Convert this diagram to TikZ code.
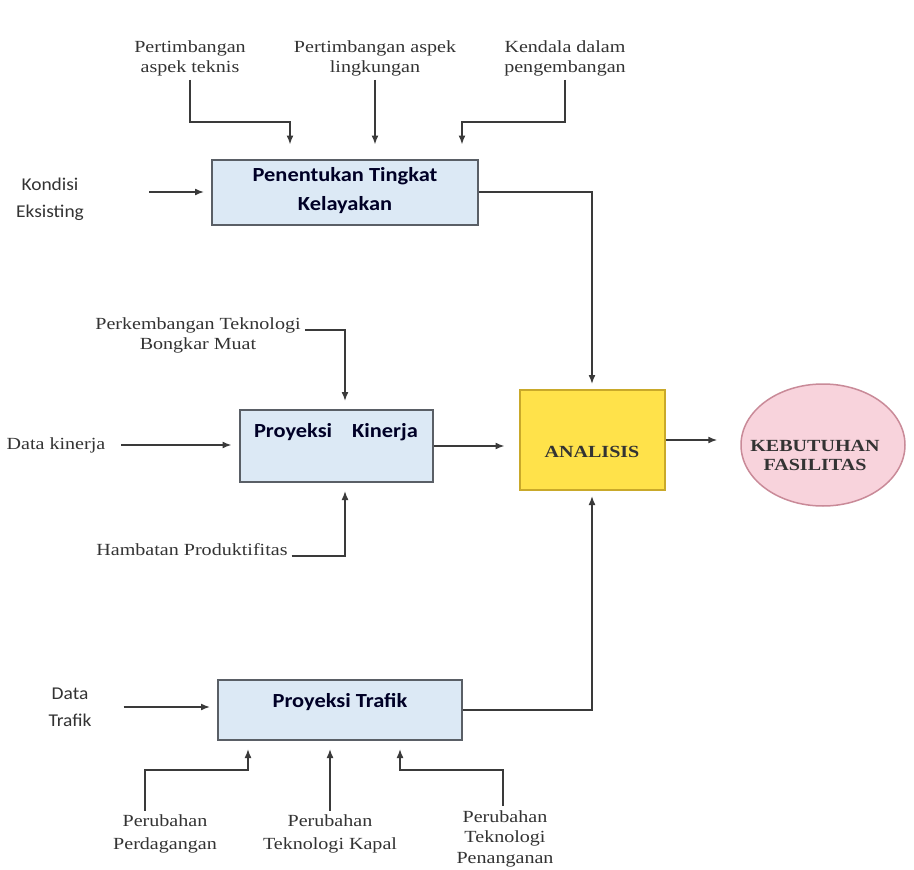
\documentclass[tikz,border=0pt]{standalone}
\usepackage{fontspec}
\setmainfont{Liberation Serif}
\newfontfamily\lblfont{Liberation Serif}[FakeStretch=1.18]
\newfontfamily\boxfont{Carlito}[FakeStretch=1.12]
\newfontfamily\sanslblfont{Carlito}[FakeStretch=1.08]
\usetikzlibrary{arrows.meta,shapes.geometric}
\definecolor{linegray}{HTML}{3A3A3A}
\definecolor{txtgray}{HTML}{333333}
\definecolor{boxblue}{HTML}{DCE9F5}
\definecolor{boxedge}{HTML}{5A5F66}
\definecolor{anayellow}{HTML}{FFE24A}
\definecolor{anaedge}{HTML}{C9A92A}
\definecolor{needpink}{HTML}{F8D3DC}
\definecolor{neededge}{HTML}{C98A98}
\begin{document}
\begin{tikzpicture}[x=1pt,y=-1pt,
  lbl/.style={align=center,text=txtgray,font=\lblfont\fontsize{17}{20}\selectfont,inner sep=4pt},
  lowlbl/.style={lbl,font=\lblfont\fontsize{17}{23}\selectfont},
  sanslbl/.style={align=center,text=txtgray,font=\sanslblfont\fontsize{18}{27}\selectfont,inner sep=4pt},
  procbox/.style={draw=boxedge,line width=2pt,fill=boxblue,align=center,
    font=\boxfont\bfseries\fontsize{20}{27}\selectfont,text=black!85!blue},
  anabox/.style={draw=anaedge,line width=2pt,fill=anayellow,align=center,
    font=\lblfont\bfseries\fontsize{17}{20}\selectfont,text=black!80,minimum width=145,minimum height=100},
  needell/.style={ellipse,draw=neededge,line width=1.5pt,fill=needpink,
    minimum width=164,minimum height=122,inner sep=0pt},
  needtxt/.style={align=center,text=black!80,
    font=\lblfont\bfseries\fontsize{17}{19}\selectfont},
  arr/.style={draw=linegray,line width=1.6pt,-{Latex[length=9pt,width=7pt]}}]
\useasboundingbox (0,0) rectangle (914,870);
\fill[white] (0,0) rectangle (914,870);

% upper group: feasibility
\node[lbl] (t1) at (190,58) {Pertimbangan\\aspek teknis};
\node[lbl] (t2) at (375,58) {Pertimbangan aspek\\lingkungan};
\node[lbl] (t3) at (565,58) {Kendala dalam\\pengembangan};
\node[procbox,minimum width=266,minimum height=65] (b1) at (345,192)
  {\raisebox{2pt}[\height][\depth]{Penentukan Tingkat}\\Kelayakan};
\node[sanslbl] (ke) at (50,199) {Kondisi\\Eksisting};

\coordinate (k1) at (190,122);
\coordinate (k3) at (565,122);
\draw[arr,shorten >=14pt] (t1.south) -- (k1) -| ([xshift=-55]b1.north);
\draw[arr,shorten >=14pt] (t2.south) -- (t2.south |- b1.north);
\draw[arr,shorten >=14pt] (t3.south) -- (k3) -| ([xshift=117]b1.north);
\draw[arr,shorten >=7pt] ([xshift=-62pt]b1.west) -- (b1.west);

% centre: analysis and result
\node[anabox] (ana) at (592,440) {\raisebox{-12pt}[\height][\depth]{ANALISIS}};
\node[needell,label={[needtxt,shift={(-8pt,-10pt)}]center:KEBUTUHAN\\FASILITAS}] (kf) at (823,445) {};
\draw[arr,shorten >=5pt] (b1.east) -| (ana.north);
\draw[arr,shorten >=23pt] (ana.east) -- (ana.east -| kf.west);

% middle group: performance
\node[lbl] (bm) at (198,335) {Perkembangan Teknologi\\Bongkar Muat};
\node[procbox,minimum width=193,minimum height=72] (b2) at (336,446)
  {\raisebox{14pt}[\height][\depth]{Proyeksi\quad Kinerja}};
\node[lbl] (dk) at (56,445) {Data kinerja};
\node[lbl] (hp) at (192,550) {Hambatan Produktifitas};
\draw[arr,shorten >=8pt] ([yshift=5pt]bm.east) -| ([xshift=9]b2.north);
\draw[arr,shorten >=7pt] ([xshift=12pt]dk.east) -- (dk.east -| b2.west);
\draw[arr,shorten >=8pt] ([yshift=-6pt]hp.east) -| ([xshift=9]b2.south);
\draw[arr,shorten >=14pt] (b2.east) -- (b2.east -| ana.west);

% lower group: traffic
\node[procbox,minimum width=244,minimum height=60] (b3) at (340,710)
  {\raisebox{8pt}[\height][\depth]{Proyeksi Trafik}};
\node[sanslbl] (dt) at (70,707) {Data\\Trafik};
\node[lowlbl] (pp) at (165,834) {Perubahan\\Perdagangan};
\node[lowlbl] (tk) at (330,834) {Perubahan\\Teknologi Kapal};
\node[lbl,anchor=north,font=\lblfont\fontsize{17}{20.5}\selectfont] (tp) at (505,806)
  {Perubahan\\Teknologi\\Penanganan};
\draw[arr,shorten >=5pt] (b3.east) -| (ana.south);
\draw[arr,shorten >=7pt] ([xshift=28pt]dt.east) -- (dt.east -| b3.west);
\coordinate (p1) at (145,770);
\coordinate (p3) at (503,770);
\draw[arr,shorten >=8pt] (p1 |- pp.north) -- (p1) -| ([xshift=-92]b3.south);
\draw[arr,shorten >=8pt] (tk.north) -- (tk.north |- b3.south);
\draw[arr,shorten >=8pt] (p3 |- tp.north) -- (p3) -| ([xshift=60]b3.south);
\end{tikzpicture}
\end{document}
